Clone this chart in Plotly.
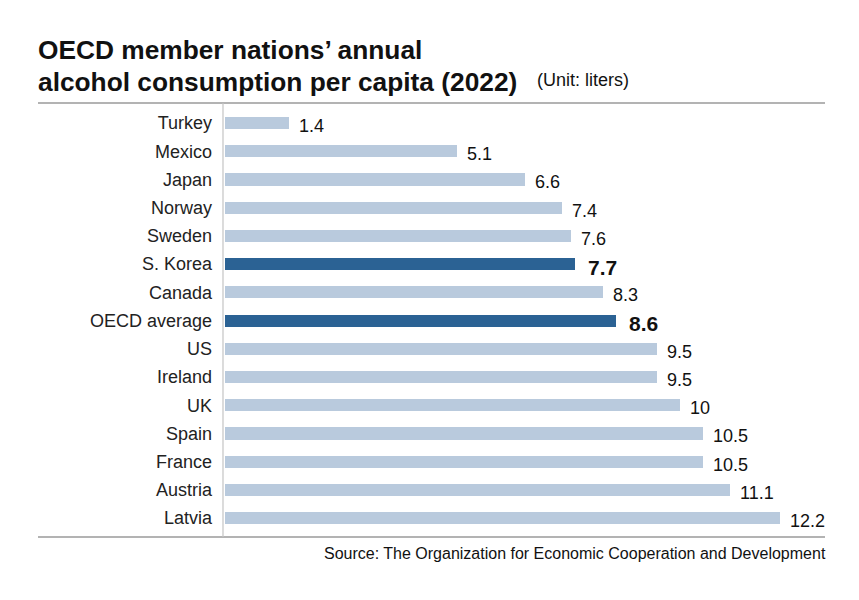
import plotly.graph_objects as go

countries = ["Turkey", "Mexico", "Japan", "Norway", "Sweden", "S. Korea", "Canada",
             "OECD average", "US", "Ireland", "UK", "Spain", "France", "Austria", "Latvia"]
values = [1.4, 5.1, 6.6, 7.4, 7.6, 7.7, 8.3, 8.6, 9.5, 9.5, 10, 10.5, 10.5, 11.1, 12.2]
highlight = ["S. Korea", "OECD average"]

LIGHT = "#b9cadd"
DARK = "#2b6294"
FONT = "Liberation Sans, Arial, sans-serif"
colors = [DARK if c in highlight else LIGHT for c in countries]

fig = go.Figure(go.Bar(
    x=values, y=countries, orientation="h",
    marker=dict(color=colors, line=dict(width=0)),
    width=0.43, hoverinfo="skip",
))

annotations = []
for c, v in zip(countries, values):
    bold = c in highlight
    annotations.append(dict(
        x=v, y=c, xref="x", yref="y", text=f"<b>{v:g}</b>" if bold else f"{v:g}",
        showarrow=False, xanchor="left", yanchor="middle",
        xshift=11 if bold else 8, yshift=-3,
        font=dict(size=21 if bold else 18, color="#111", family=FONT),
    ))

PW, PH = 602, 434
title_font = dict(family=FONT, size=26.3, color="#111")
annotations.append(dict(text="<b>OECD member nations’ annual</b>", xref="paper", yref="paper",
                        x=-(223 - 36) / PW, y=1 + (103 - 50) / PH, xanchor="left", yanchor="middle",
                        showarrow=False, font=title_font))
annotations.append(dict(text="<b>alcohol consumption per capita (2022)</b>", xref="paper", yref="paper",
                        x=-(223 - 36) / PW, y=1 + (103 - 82) / PH, xanchor="left", yanchor="middle",
                        showarrow=False, font=title_font))
annotations.append(dict(text="(Unit: liters)", xref="paper", yref="paper",
                        x=-(223 - 535) / PW, y=1 + (103 - 80) / PH, xanchor="left", yanchor="middle",
                        showarrow=False, font=dict(family=FONT, size=18, color="#111")))
annotations.append(dict(text="Source: The Organization for Economic Cooperation and Development",
                        xref="paper", yref="paper", x=1, y=-(553 - 537) / PH, xshift=3,
                        xanchor="right", yanchor="middle", showarrow=False,
                        font=dict(family=FONT, size=16, color="#111")))

shapes = [
    dict(type="line", xref="paper", yref="paper", x0=-(223 - 38) / PW, x1=1, y0=1, y1=1,
         line=dict(color="#9a9a9a", width=1.3)),
    dict(type="line", xref="paper", yref="paper", x0=-(223 - 38) / PW, x1=1, y0=0, y1=0,
         line=dict(color="#9a9a9a", width=1.3)),
    dict(type="line", xref="paper", yref="paper", x0=0, x1=0, y0=0, y1=1,
         line=dict(color="#c4c4c4", width=1.2)),
]

fig.update_layout(
    width=859, height=600,
    margin=dict(l=223, r=34, t=103, b=63),
    paper_bgcolor="white", plot_bgcolor="white",
    showlegend=False,
    xaxis=dict(range=[-0.045, 13.19], visible=False, fixedrange=True),
    yaxis=dict(range=[14.67, -0.71], showgrid=False, zeroline=False, showline=False,
               ticks="", ticklabelstandoff=10,
               tickfont=dict(family=FONT, size=18, color="#222"),
               fixedrange=True),
    annotations=annotations, shapes=shapes,
    bargap=0,
)

fig.write_html("out.html", config={"displayModeBar": False})
